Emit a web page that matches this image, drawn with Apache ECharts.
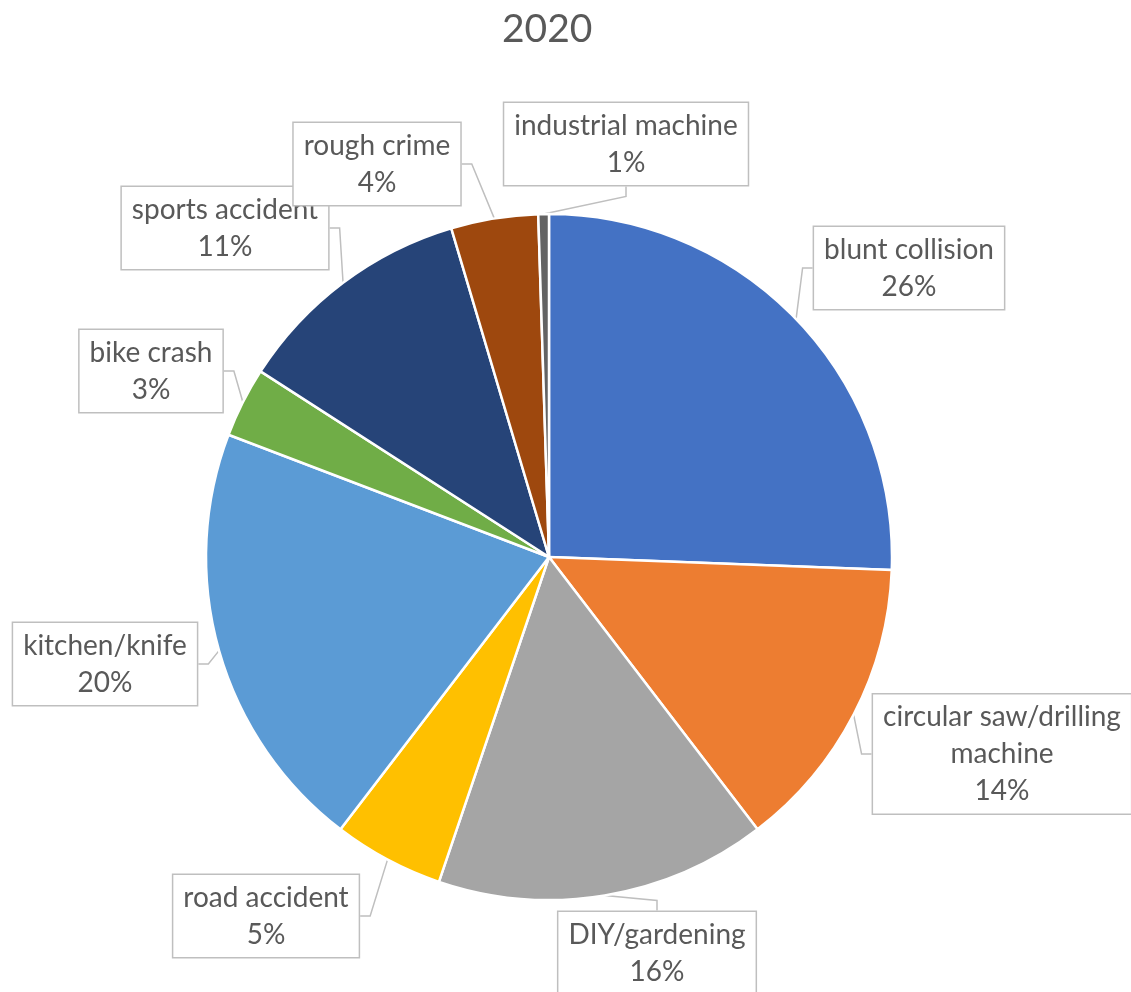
<!DOCTYPE html>
<html>
<head>
<meta charset="utf-8">
<script src="https://cdn.jsdelivr.net/npm/echarts@6/dist/echarts.min.js"></script>
<style>
  html, body { margin: 0; padding: 0; background: #fff; }
  #chart { width: 1131px; height: 992px; }
</style>
</head>
<body>
<div id="chart"></div>
<script>
// ---- data ----
const chartTitle = '2020';
const categories = [
  'blunt collision',
  'circular saw/drilling machine',
  'DIY/gardening',
  'road accident',
  'kitchen/knife',
  'bike crash',
  'sports accident',
  'rough crime',
  'industrial machine'
];
const shares = [25.6, 14.0, 15.6, 5.2, 20.4, 3.3, 11.3, 4.1, 0.5];

// ---- styling / layout (not data) ----
const sliceColors = ['#4472C4', '#ED7D31', '#A5A5A5', '#FFC000', '#5B9BD5', '#70AD47', '#264478', '#9E480E', '#636363'];
const calloutCenters = [
  [909, 268], [1002, 754], [657, 953], [266, 916], [105, 664],
  [151, 371], [225, 228], [377, 164], [626, 144]
];

const chart = echarts.init(document.getElementById('chart'), null, { renderer: 'canvas' });

const seriesData = categories.map((name, i) => ({
  name: name,
  value: shares[i],
  itemStyle: { color: sliceColors[i] }
}));

function wrapName(name) {
  if (name.length <= 22) return name;
  const k = name.lastIndexOf(' ');
  return name.slice(0, k) + '\n' + name.slice(k + 1);
}

chart.setOption({
  animation: false,
  title: {
    text: chartTitle,
    left: 497,
    top: 5,
    textStyle: { fontFamily: 'Lato', fontSize: 39, fontWeight: 'normal', color: '#595959' }
  },
  series: [{
    type: 'pie',
    center: [549, 557],
    radius: 343,
    startAngle: 90,
    clockwise: true,
    percentPrecision: 0,
    avoidLabelOverlap: false,
    itemStyle: { borderColor: '#ffffff', borderWidth: 2.5 },
    emphasis: { disabled: true },
    label: {
      show: true,
      position: 'outside',
      formatter: function (p) { return wrapName(p.name) + '\n' + p.percent + '%'; },
      fontFamily: 'Lato',
      fontSize: 28,
      lineHeight: 37,
      color: '#595959',
      align: 'center',
      backgroundColor: '#ffffff',
      borderColor: '#bfbfbf',
      borderWidth: 1.5,
      padding: [8, 10, 0, 10]
    },
    labelLine: {
      show: true,
      length: 10,
      length2: 10,
      lineStyle: { color: '#bfbfbf', width: 1.5 }
    },
    labelLayout: function (params) {
      const c = calloutCenters[params.dataIndex];
      return { x: c[0], y: c[1], align: 'center', verticalAlign: 'middle' };
    },
    data: seriesData
  }]
});
</script>
</body>
</html>
